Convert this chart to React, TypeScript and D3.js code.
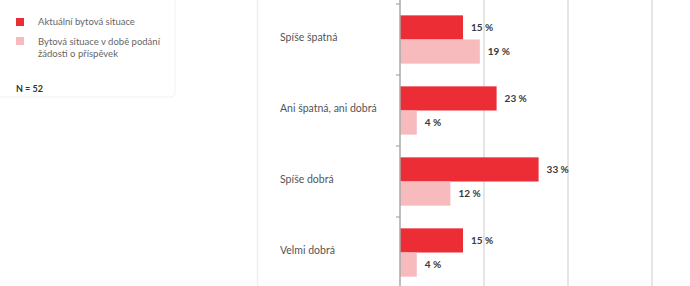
import { useEffect, useRef } from "react";
import * as d3 from "d3";

const categories = ["Spíše špatná", "Ani špatná, ani dobrá", "Spíše dobrá", "Velmi dobrá"];
const seriesNames = ["Aktuální bytová situace", "Bytová situace v době podání žádosti o příspěvek"];
const currentValues = [15, 23, 33, 15];
const previousValues = [19, 4, 12, 4];
const gridTicks = [20, 40, 60, 80];
const colors = ["#ec2d35", "#f7babd"];
const sampleNote = "N = 52";

type T_Row = { cat: string; series: string; value: number; idx: number };

export default function App() {
  const svgRef = useRef<SVGSVGElement>(null);

  useEffect(() => {
    if (!svgRef.current) return;
    const W = 690;
    const H = 286;
    const svg = d3.select(svgRef.current);
    svg.selectAll("*").remove();
    svg.attr("width", W).attr("height", H).attr("viewBox", `0 0 ${W} ${H}`);

    const font = "Lato, 'Open Sans', sans-serif";

    // faint panel borders
    svg.append("line")
      .attr("x1", 257.5).attr("x2", 257.5).attr("y1", 0).attr("y2", H)
      .attr("stroke", "#efefef").attr("stroke-width", 1.5);
    svg.append("rect")
      .attr("x", -10).attr("y", -10).attr("width", 185).attr("height", 107).attr("rx", 4)
      .attr("fill", "none").attr("stroke", "#f2f2f2").attr("stroke-width", 1);

    const xScale = d3.scaleLinear().domain([0, 80]).range([400, 736]);
    const yScale = d3.scaleBand().domain(categories).range([4, 4 + 71 * 4]);
    const inner = d3.scaleBand().domain(seriesNames).range([0, yScale.bandwidth()])
      .paddingInner(0).paddingOuter(0.47);

    // gridlines
    svg.append("g").selectAll("line").data(gridTicks).enter().append("line")
      .attr("x1", (d) => xScale(d)).attr("x2", (d) => xScale(d))
      .attr("y1", 0).attr("y2", H)
      .attr("stroke", "#dcdcdc").attr("stroke-width", 1.5);

    const rows: T_Row[] = [];
    categories.forEach((c, i) => {
      rows.push({ cat: c, series: seriesNames[0], value: currentValues[i], idx: 0 });
      rows.push({ cat: c, series: seriesNames[1], value: previousValues[i], idx: 1 });
    });

    // bars
    svg.append("g").selectAll("rect").data(rows).enter().append("rect")
      .attr("x", xScale(0))
      .attr("y", (d) => (yScale(d.cat) as number) + (inner(d.series) as number))
      .attr("width", (d) => xScale(d.value) - xScale(0))
      .attr("height", inner.bandwidth())
      .attr("fill", (d) => colors[d.idx]);

    // value labels
    svg.append("g").selectAll("text").data(rows).enter().append("text")
      .attr("x", (d) => xScale(d.value) + 8)
      .attr("y", (d) => (yScale(d.cat) as number) + (inner(d.series) as number) + inner.bandwidth() / 2)
      .attr("dy", "0.35em")
      .attr("font-family", font).attr("font-size", 10).attr("font-weight", 700)
      .attr("fill", "#3a3a3a")
      .text((d) => `${d.value} %`);

    // axis line + ticks
    svg.append("line")
      .attr("x1", xScale(0)).attr("x2", xScale(0)).attr("y1", 0).attr("y2", H)
      .attr("stroke", "#a8a8a8").attr("stroke-width", 1.5);
    const tickYs = categories.map((c) => yScale(c) as number).concat([yScale.range()[1]]);
    svg.append("g").selectAll("line").data(tickYs).enter().append("line")
      .attr("x1", xScale(0) - 4).attr("x2", xScale(0))
      .attr("y1", (d) => d).attr("y2", (d) => d)
      .attr("stroke", "#a8a8a8").attr("stroke-width", 1.2);

    // category labels
    svg.append("g").selectAll("text").data(categories).enter().append("text")
      .attr("x", 280)
      .attr("y", (d) => (yScale(d) as number) + yScale.bandwidth() / 2 - 2)
      .attr("dy", "0.35em")
      .attr("font-family", font).attr("font-size", 10.5)
      .attr("fill", "#555")
      .text((d) => d);

    // legend
    const legend = svg.append("g").attr("transform", "translate(16, 18)");
    legend.append("rect").attr("width", 8).attr("height", 8).attr("fill", colors[0]);
    legend.append("text").attr("x", 22).attr("y", 4).attr("dy", "0.35em")
      .attr("font-family", font).attr("font-size", 9.5).attr("fill", "#666")
      .text(seriesNames[0]);
    legend.append("rect").attr("y", 19).attr("width", 8).attr("height", 8).attr("fill", colors[1]);
    const t2 = legend.append("text").attr("x", 22).attr("y", 24)
      .attr("font-family", font).attr("font-size", 9.5).attr("fill", "#666");
    t2.append("tspan").attr("x", 22).attr("dy", "0.35em").text("Bytová situace v době podání");
    t2.append("tspan").attr("x", 22).attr("dy", "1.2em").text("žádosti o příspěvek");
    legend.append("text").attr("x", 0).attr("y", 71).attr("dy", "0.35em")
      .attr("font-family", font).attr("font-size", 9).attr("font-weight", 700).attr("fill", "#333")
      .text(sampleNote);
  }, []);

  return (
    <div style={{ position: "absolute", left: 0, top: 0, width: 690, height: 286, background: "#fff" }}>
      <svg ref={svgRef} />
    </div>
  );
}
